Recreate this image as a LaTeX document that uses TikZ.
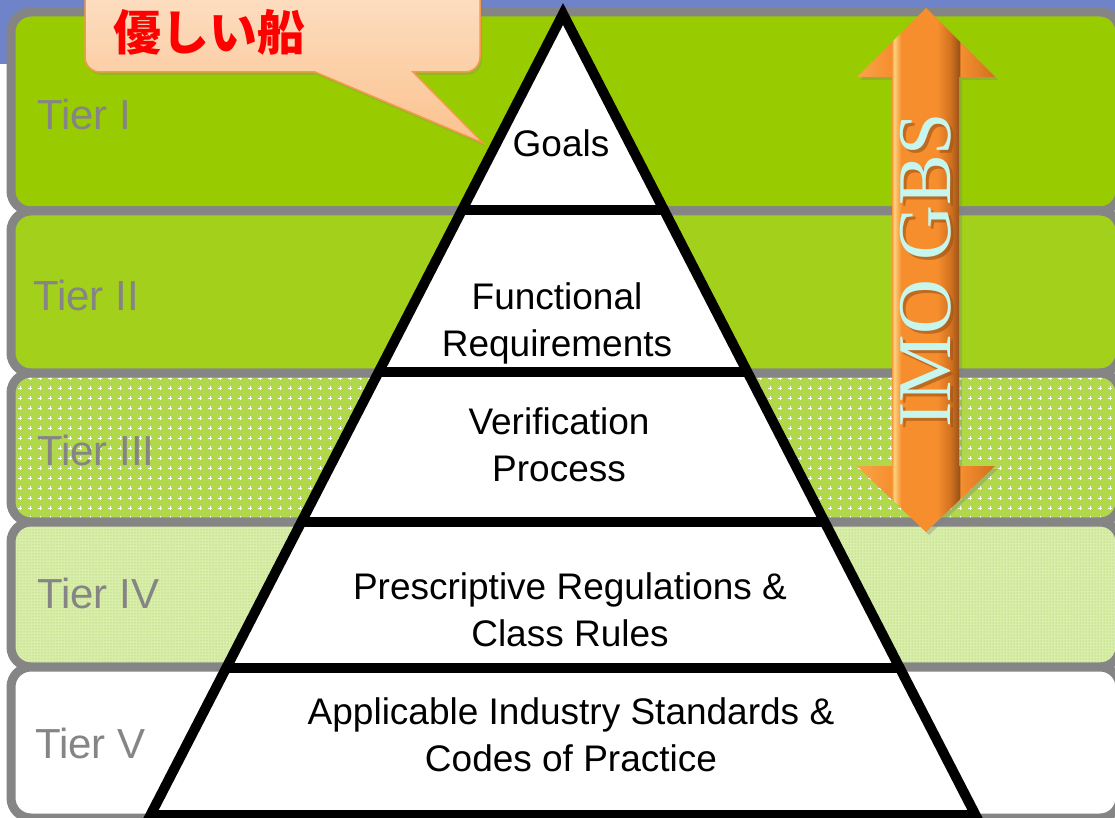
\documentclass[tikz,border=0pt]{standalone}
\usepackage{fontspec}
\setmainfont{Liberation Sans}
\newfontfamily\gbsfont{Liberation Serif}
\newfontfamily\cjk{Noto Sans CJK JP}
\usetikzlibrary{calc,patterns,patterns.meta,shadows}

% colours of the slide
\definecolor{slideblue}{HTML}{6F84C8}
\definecolor{bandgray}{HTML}{858585}
\definecolor{tierone}{HTML}{99CC00}
\definecolor{tiertwo}{HTML}{A3D11B}
\definecolor{tierthree}{HTML}{B0D84A}
\definecolor{tierfour}{HTML}{D9EDAC}
\definecolor{dotgreen}{HTML}{9FCF35}
\definecolor{calloutlight}{HTML}{FDE2C9}
\definecolor{calloutdark}{HTML}{FBC28F}
\definecolor{calloutedge}{HTML}{F5994A}
\definecolor{gbstext}{HTML}{C6F6EE}
\definecolor{arrowlight}{HTML}{F9A548}
\definecolor{arrowmain}{HTML}{F68E2E}
\definecolor{arrowhigh}{HTML}{FDD27E}
\definecolor{arrowdark}{HTML}{D0701F}
\definecolor{arrowdeep}{HTML}{9A5418}

% white crosses on the tier III band
\tikzdeclarepattern{
  name=plusgrid,
  type=uncolored,
  bounding box={(-5pt,-5pt) and (5pt,5pt)},
  tile size={(10pt,10pt)},
  code={\draw[line width=0.9pt] (-1.6pt,0) -- (1.6pt,0) (0,-1.6pt) -- (0,1.6pt);}
}

% orange of the double arrow, light edge left and dark edge right
\pgfdeclarehorizontalshading{gbsorange}{100bp}{
  color(0bp)=(arrowlight); color(25bp)=(arrowlight);
  color(37.5bp)=(arrowmain); color(38.5bp)=(arrowhigh);
  color(41bp)=(arrowmain); color(54bp)=(arrowmain);
  color(59bp)=(arrowdark); color(62bp)=(arrowdeep);
  color(62.5bp)=(arrowmain); color(75bp)=(arrowdark);
  color(100bp)=(arrowdark)}

\tikzset{
  tierband/.style={draw=bandgray, line width=9pt, rounded corners=20pt},
  tierlabel/.style={text=bandgray, font=\fontsize{42}{42}\selectfont, anchor=base west, inner sep=0pt},
  layertext/.style={font=\fontsize{37}{47}\selectfont, align=center, text=black, inner sep=0pt},
  pyramidline/.style={line width=10pt, black},
  callout/.style={draw=calloutedge, line width=1.5pt, top color=calloutlight, bottom color=calloutdark,
    drop shadow={opacity=0.25, shadow xshift=2pt, shadow yshift=-3pt}},
}

\begin{document}
\begin{tikzpicture}[x=1pt, y=-1pt]
    \useasboundingbox (0,0) rectangle (1115,818);

    % slide background with the blue corner
    \fill[white] (0,0) rectangle (1115,818);
    \fill[slideblue] (0,0) rectangle (1115,30);
    \fill[slideblue] (0,0) rectangle (14,64);

    % the five tier bands
    \draw[tierband, fill=tierone] (11,12) rectangle (1120,211);
    \draw[tierband, fill=tiertwo] (11,211) rectangle (1120,373);
    \draw[tierband, preaction={fill=tierthree}, preaction={pattern=plusgrid, pattern color=white}] (11,373) rectangle (1120,522);
    \draw[tierband, preaction={fill=tierfour}, preaction={pattern=dots, pattern color=dotgreen}] (11,522) rectangle (1120,667);
    \draw[tierband, fill=white] (11,667) rectangle (1120,818);

    % tier names on the left
    \node[tierlabel] (tier1) at (37,130) {Tier I};
    \node[tierlabel] (tier2) at (33,310) {Tier II};
    \node[tierlabel] (tier3) at (37,465) {Tier III};
    \node[tierlabel] (tier4) at (37,608) {Tier IV};
    \node[tierlabel] (tier5) at (35,758) {Tier V};

    % pyramid with its four dividers
    \coordinate (apex) at (563,14);
    \coordinate (bl) at (150.5,815);
    \coordinate (br) at (975.5,815);
    \fill[white] (apex) -- (bl) -- (br) -- cycle;
    \foreach \t in {0.2447,0.4469,0.6342,0.8165}
        \draw[pyramidline] ($(apex)!\t!(bl)$) -- ($(apex)!\t!(br)$);
    \draw[pyramidline, line join=miter] (apex) -- (bl) -- (br) -- cycle;

    % texts of the pyramid layers
    \node[layertext] (goals) at (561,143) {Goals};
    \node[layertext] (funreq) at (557,323) {Functional\\Requirements};
    \node[layertext] (verif) at (559,445) {Verification\\Process};
    \node[layertext] (prescr) at (570,610) {Prescriptive Regulations \&\\Class Rules};
    \node[layertext] (industry) at (571,735) {Applicable Industry Standards \&\\Codes of Practice};

    % double arrow spanning tiers I to III
    \shade[shading=gbsorange, drop shadow={opacity=0.35, shadow xshift=3pt, shadow yshift=-3pt}]
        (926,8) -- (995,77) -- (959,77) -- (959,466) -- (995,466) -- (926,532)
        -- (857,466) -- (892,466) -- (892,77) -- (857,77) -- cycle;
    \node[rotate=90, anchor=base, inner sep=0pt, text=arrowdeep, opacity=0.6,
          font=\gbsfont\fontsize{76}{76}\selectfont] at (953,273) {IMO GBS};
    \node[rotate=90, anchor=base, inner sep=0pt, text=gbstext,
          font=\gbsfont\fontsize{76}{76}\selectfont] (imogbs) at (950,270) {IMO GBS};

    % speech bubble pointing at the top layer
    \draw[callout] (85,-30) -- (85,57) arc[start angle=180, end angle=90, radius=15]
        -- (315,72) -- (483,143) -- (413,72)
        -- (465,72) arc[start angle=90, end angle=0, radius=15] -- (480,-30) -- cycle;
    \node[text=red, font=\cjk\bfseries\fontsize{48}{48}\selectfont] (callouttext) at (209,32) {優しい船};

\end{tikzpicture}
\end{document}
